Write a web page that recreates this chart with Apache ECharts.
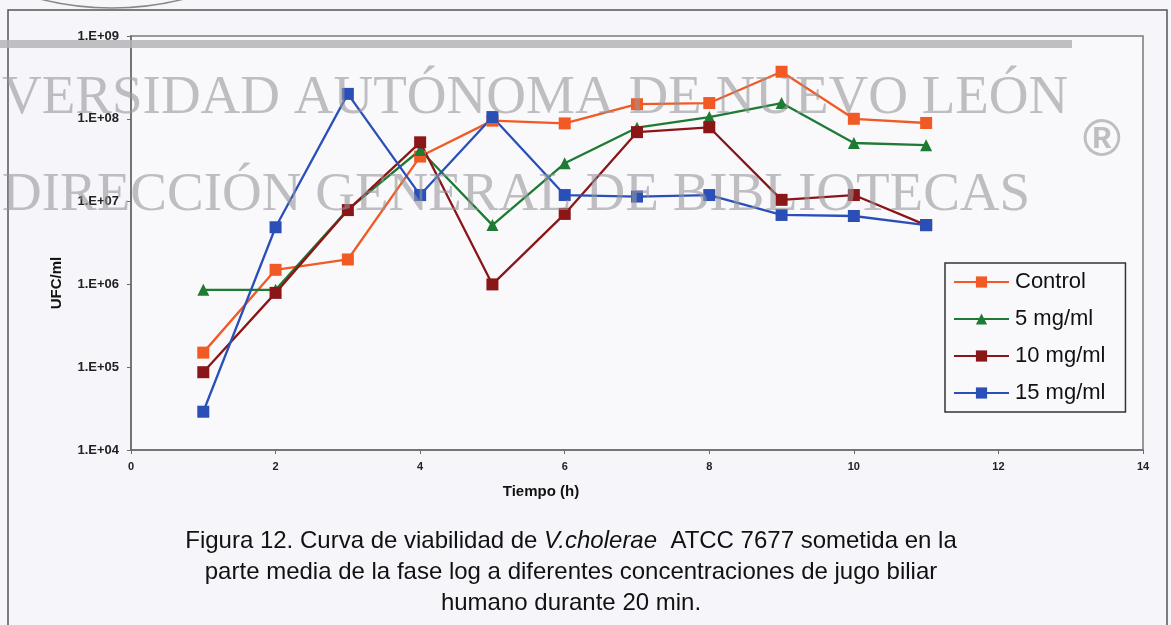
<!DOCTYPE html>
<html>
<head>
<meta charset="utf-8">
<script src="https://cdn.jsdelivr.net/npm/echarts@6/dist/echarts.min.js"></script>
<style>
  html, body { margin: 0; padding: 0; background: #f6f6fa; }
  #chart { width: 1171px; height: 625px; }
</style>
</head>
<body>
<div id="chart"></div>
<script>
// tiempo (h)
const tiempo = [1, 2, 3, 4, 5, 6, 7, 8, 9, 10, 11]

// UFC/ml por serie
const control = [1.5e5, 1.5e6, 2.0e6, 3.5e7, 9.5e7, 8.8e7, 1.5e8, 1.55e8, 3.7e8, 1.0e8, 8.9e7]
const mg5 = [8.6e5, 8.6e5, 8.0e6, 4.2e7, 5.2e6, 2.9e7, 7.8e7, 1.05e8, 1.55e8, 5.1e7, 4.8e7]
const mg10 = [8.7e4, 7.9e5, 7.9e6, 5.2e7, 1.0e6, 7.1e6, 6.9e7, 7.9e7, 1.05e7, 1.2e7, 5.2e6]
const mg15 = [2.9e4, 4.9e6, 2.0e8, 1.2e7, 1.05e8, 1.2e7, 1.15e7, 1.2e7, 6.9e6, 6.7e6, 5.2e6]

// ejes
const xTicks = [0, 2, 4, 6, 8, 10, 12, 14]
const yTickLabels = ['1.E+04', '1.E+05', '1.E+06', '1.E+07', '1.E+08', '1.E+09']

const pairs = (vals) => tiempo.map((t, i) => [t, vals[i]])

const chart = echarts.init(document.getElementById('chart'))

const serie = (name, vals, color, symbol, size) => ({
  name: name,
  type: 'line',
  data: pairs(vals),
  symbol: symbol,
  symbolSize: size,
  showAllSymbol: true,
  lineStyle: { color: color, width: 2.3 },
  itemStyle: { color: color },
  emphasis: { disabled: true }
})

const wm = 'rgba(150,150,155,0.6)'
const sans = 'Liberation Sans, Arial, sans-serif'
const serif = 'Liberation Serif, Times New Roman, serif'

chart.setOption({
  animation: false,
  backgroundColor: '#f6f6fa',
  grid: {
    left: 131, top: 36, right: 28, bottom: 175,
    show: true, borderColor: '#7a7a7a', borderWidth: 1.5,
    backgroundColor: '#f9f9fc'
  },
  xAxis: {
    type: 'value',
    min: xTicks[0],
    max: xTicks[xTicks.length - 1],
    interval: xTicks[1] - xTicks[0],
    splitLine: { show: false },
    axisLine: { lineStyle: { color: '#6a6a6a', width: 1.5 } },
    axisTick: { length: 4, lineStyle: { color: '#6a6a6a' } },
    axisLabel: { color: '#222', fontSize: 11, fontWeight: 'bold', margin: 11, fontFamily: sans }
  },
  yAxis: {
    type: 'log',
    logBase: 10,
    min: 1e4,
    max: 1e9,
    splitLine: { show: false },
    axisLine: { show: true, lineStyle: { color: '#6a6a6a', width: 1.5 } },
    axisTick: { show: true, length: 4, lineStyle: { color: '#6a6a6a' } },
    axisLabel: {
      color: '#222', fontSize: 13, fontWeight: 'bold', margin: 12, fontFamily: sans,
      formatter: (v) => yTickLabels[Math.round(Math.log10(v)) - 4]
    }
  },
  legend: {
    orient: 'vertical',
    left: 945,
    top: 263,
    padding: [8, 20, 8, 8],
    itemGap: 15,
    itemWidth: 55,
    itemHeight: 14,
    borderColor: '#333',
    borderWidth: 1.5,
    backgroundColor: '#f9f9fc',
    textStyle: { fontSize: 22, color: '#111', fontFamily: sans, lineHeight: 22, padding: [0, 0, 0, 1] },
    data: ['Control', '5 mg/ml', '10 mg/ml', '15 mg/ml']
  },
  series: [
    serie('Control', control, '#f15a24', 'rect', 12),
    serie('5 mg/ml', mg5, '#1f7a33', 'triangle', 12),
    serie('10 mg/ml', mg10, '#8a1618', 'rect', 12),
    serie('15 mg/ml', mg15, '#2a50b8', 'rect', 12)
  ],
  graphic: [
    // marco exterior
    { type: 'rect', z: -10, shape: { x: 8, y: 10, width: 1159, height: 640 },
      style: { fill: 'none', stroke: '#555', lineWidth: 1.5 } },
    // sello (parte inferior del logo)
    { type: 'circle', z: -10, shape: { cx: 112, cy: -285, r: 293 },
      style: { fill: 'none', stroke: '#888', lineWidth: 1.5 } },
    { type: 'rect', z: 50, shape: { x: 0, y: 40, width: 1072, height: 8 },
      style: { fill: 'rgba(180,180,185,0.85)' } },
    // marca de agua
    { type: 'text', z: 50, x: 2, y: 99,
      style: { text: 'VERSIDAD AUTÓNOMA DE NUEVO LEÓN', fill: wm, fontSize: 55, verticalAlign: 'middle', fontFamily: serif } },
    { type: 'text', z: 50, x: 2, y: 196,
      style: { text: 'DIRECCIÓN GENERAL DE BIBLIOTECAS', fill: wm, fontSize: 55, verticalAlign: 'middle', fontFamily: serif } },
    { type: 'text', z: 50, x: 1102, y: 142,
      style: { text: '®', fill: wm, fontSize: 52, fontWeight: 'bold', align: 'center', verticalAlign: 'middle', fontFamily: sans } },
    // titulos de ejes
    { type: 'text', z: 60, x: 541, y: 492,
      style: { text: 'Tiempo (h)', fill: '#111', fontSize: 15, fontWeight: 'bold', align: 'center', verticalAlign: 'middle', fontFamily: sans } },
    { type: 'text', z: 60, x: 57, y: 283, rotation: Math.PI / 2,
      style: { text: 'UFC/ml', fill: '#111', fontSize: 15, fontWeight: 'bold', align: 'center', verticalAlign: 'middle', fontFamily: sans } },
    // pie de figura
    { type: 'text', z: 60, x: 571, y: 541,
      style: {
        text: '{a|Figura 12. Curva de viabilidad de }{i|V.cholerae}{a|  ATCC 7677 sometida en la}',
        align: 'center', verticalAlign: 'middle',
        rich: {
          a: { fontSize: 24, fill: '#111', fontFamily: sans },
          i: { fontSize: 24, fill: '#111', fontStyle: 'italic', fontFamily: sans }
        }
      } },
    { type: 'text', z: 60, x: 571, y: 572,
      style: { text: 'parte media de la fase log a diferentes concentraciones de jugo biliar', fill: '#111', fontSize: 24, align: 'center', verticalAlign: 'middle', fontFamily: sans } },
    { type: 'text', z: 60, x: 571, y: 603,
      style: { text: 'humano durante 20 min.', fill: '#111', fontSize: 24, align: 'center', verticalAlign: 'middle', fontFamily: sans } }
  ]
})
</script>
</body>
</html>
